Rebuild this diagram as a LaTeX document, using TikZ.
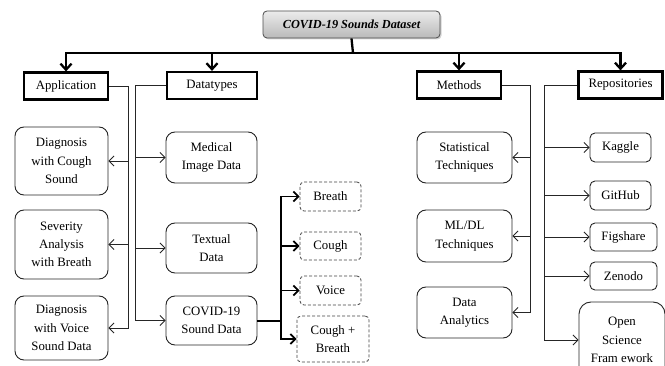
\documentclass[tikz,border=0pt]{standalone}
\usepackage{fontspec}
\setmainfont{Liberation Serif}
\usetikzlibrary{arrows.meta,shadows,calc}
\begin{document}
\begin{tikzpicture}[x=1pt,y=-1pt,
  txt/.style={font=\fontsize{12.8}{18.3}\selectfont, align=center, inner sep=0pt},
  topbox/.style={txt, draw=black!70, rounded corners=4pt, line width=0.8pt, top color=gray!15, bottom color=gray!55,
     drop shadow={shadow xshift=1.5pt, shadow yshift=-1.5pt, opacity=0.35}, font=\fontsize{12.3}{14}\selectfont\bfseries\itshape},
  headbox/.style={txt, draw=black, line width=2.2pt, fill=white,
     drop shadow={shadow xshift=1.2pt, shadow yshift=-1.2pt, opacity=0.3}},
  roundbox/.style={txt, draw=black!85, line width=0.9pt, rounded corners=9pt, fill=white},
  dashbox/.style={txt, draw=black!75, line width=0.8pt, dashed, dash pattern=on 3pt off 2pt, rounded corners=4pt},
  mainline/.style={line width=2.3pt, -{Straight Barb[length=6pt,width=11pt,line width=2.3pt]}},
  midline/.style={line width=1.6pt, -{Straight Barb[length=5pt,width=10pt,line width=1.8pt]}},
  midplain/.style={line width=1.6pt},
  thinline/.style={line width=0.8pt, draw=black!85, -{Straight Barb[length=5pt,width=10pt,line width=0.9pt]}},
  thinplain/.style={line width=0.8pt, draw=black!85}
]
\useasboundingbox (0,0) rectangle (665,366);

% top node
\node[topbox, minimum width=177pt, minimum height=27pt] (top) at (351.5,24.5) {COVID-19 Sounds Dataset};

% heading boxes
\node[headbox, minimum width=84pt, minimum height=27pt] (app) at (66,86) {Application};
\node[headbox, minimum width=90pt, minimum height=27pt] (dt) at (212,85.5) {Datatypes};
\node[headbox, minimum width=84pt, minimum height=27pt] (meth) at (459,85) {Methods};
\node[headbox, minimum width=84pt, minimum height=27pt] (repo) at (620.5,85) {Repositories};

% main connectors
\coordinate (J) at (353,53);
\draw[line width=2.3pt] (top.south) -- (J);
\draw[mainline] (J) -| (app.north);
\draw[mainline] (J) -| (dt.north);
\draw[mainline] (J) -| (meth.north);
\draw[mainline] (J) -| (repo.north);

% application column
\node[roundbox, minimum width=93pt, minimum height=68pt] (dcs) at (61.5,161) {Diagnosis\\with Cough\\Sound};
\node[roundbox, minimum width=93pt, minimum height=69pt] (sev) at (61.5,244.5) {Severity\\Analysis\\with Breath};
\node[roundbox, minimum width=93pt, minimum height=64pt] (dvs) at (61.5,328) {Diagnosis\\with Voice\\Sound Data};

% datatypes column
\node[roundbox, minimum width=91pt, minimum height=51pt] (med) at (211.5,157.5) {Medical\\Image Data};
\node[roundbox, minimum width=91pt, minimum height=50pt] (tdat) at (211.5,248) {Textual\\Data};
\node[roundbox, minimum width=91pt, minimum height=49pt] (csd) at (211.5,320.5) {COVID-19\\Sound Data};

% sound types
\node[dashbox, minimum width=61pt, minimum height=29pt] (breath) at (330.5,196.5) {Breath};
\node[dashbox, minimum width=61pt, minimum height=28pt] (cough) at (330.5,246) {Cough};
\node[dashbox, minimum width=61pt, minimum height=29pt] (voice) at (330.5,290.5) {Voice};
\node[dashbox, minimum width=72pt, minimum height=46pt] (cb) at (333,339) {Cough +\\Breath};

% methods column
\node[roundbox, minimum width=95pt, minimum height=51pt] (stat) at (464.5,157.5) {Statistical\\Techniques};
\node[roundbox, minimum width=95pt, minimum height=52pt] (ml) at (464.5,236) {ML/DL\\Techniques};
\node[roundbox, minimum width=95pt, minimum height=51pt] (da) at (464.5,312.5) {Data\\Analytics};

% repositories column
\node[roundbox, rounded corners=5pt, minimum width=61pt, minimum height=29pt] (kag) at (620.5,147.5) {Kaggle};
\node[roundbox, rounded corners=5pt, minimum width=61pt, minimum height=29pt] (git) at (620.5,195.5) {GitHub};
\node[roundbox, rounded corners=5pt, minimum width=67pt, minimum height=28pt] (fig) at (623.5,237) {Figshare};
\node[roundbox, rounded corners=5pt, minimum width=67pt, minimum height=28pt] (zen) at (623.5,276) {Zenodo};
\node[roundbox, rounded corners=12pt, minimum width=86pt, minimum height=76pt, text depth=0pt] (osf) at (622,340) {Open\\Science\\Fram ework};

% application connectors
\coordinate (ab) at (128,86);
\draw[thinline] (app.east) -| (ab |- dvs.east) -- (dvs.east);
\draw[thinline] (ab |- dcs.east) -- (dcs.east);
\draw[thinline] (ab |- sev.east) -- (sev.east);

% datatypes connectors
\coordinate (db) at (135,86);
\draw[thinline] (dt.west) -| (db |- csd.west) -- (csd.west);
\draw[thinline] (db |- med.west) -- (med.west);
\draw[thinline] (db |- tdat.west) -- (tdat.west);

% sound data branch
\coordinate (sb) at (281,321);
\draw[midplain] (csd.east |- sb) -- (sb);
\draw[midline] (sb) |- (breath.west);
\draw[midline] (sb) |- (cough.west);
\draw[midline] (sb) |- (voice.west);
\draw[midline] (sb) |- (cb.west);

% methods connectors
\coordinate (mb) at (530,85);
\draw[thinline] (meth.east) -| (mb |- da.east) -- (da.east);
\draw[thinline] (mb |- stat.east) -- (stat.east);
\draw[thinline] (mb |- ml.east) -- (ml.east);

% repositories connectors
\coordinate (rb) at (544,85);
\draw[thinline] (repo.west) -| (rb |- osf.west) -- (osf.west);
\draw[thinline] (rb |- kag.west) -- (kag.west);
\draw[thinline] (rb |- git.west) -- (git.west);
\draw[thinline] (rb |- fig.west) -- (fig.west);
\draw[thinline] (rb |- zen.west) -- (zen.west);
\end{tikzpicture}
\end{document}
